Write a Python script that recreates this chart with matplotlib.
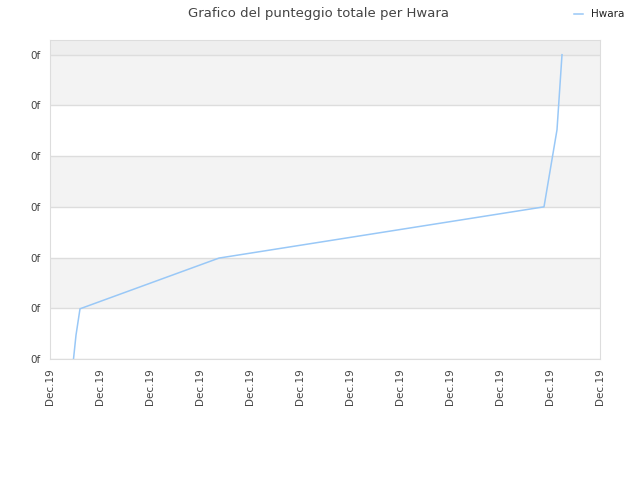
"""Grafico del punteggio totale per Hwara"""

import matplotlib
matplotlib.use("Agg")
import matplotlib.pyplot as plt

# posizioni sull'asse x (indice dei tick) e punteggi (in unità di tick)
x_pos = [0.47, 0.52, 0.60, 3.38, 9.88, 10.14, 10.24]
punteggi = [0.0, 0.47, 0.99, 1.99, 3.0, 4.52, 6.0]
x_labels = ["Dec.19"] * 12
y_labels = ["0f"] * 7

fig = plt.figure(figsize=(6.4, 4.8), dpi=100)
ax = fig.add_axes([50 / 640, 121 / 480, 550 / 640, 319 / 480])

# bande alternate
for i in range(1, 6, 2):
    ax.axhspan(i, i + 1, color="#f3f3f3", zorder=0, lw=0)
ax.axhspan(6, 6.29, color="#eeeeee", zorder=0, lw=0)

ax.plot(x_pos, punteggi, color="#99c8f7", linewidth=1.1, label="Hwara", zorder=3)

ax.set_xlim(0, 11)
ax.set_ylim(0, 6.29)
ax.set_xticks(range(len(x_labels)))
ax.set_xticklabels(x_labels, rotation=90, fontsize=7.5, color="#444444")
ax.set_yticks(range(len(y_labels)))
ax.set_yticklabels(y_labels, fontsize=7.5, color="#444444")
ax.tick_params(length=0, pad=7)
ax.grid(axis="y", color="#dddddd", linewidth=1)
ax.set_axisbelow(True)
for s in ax.spines.values():
    s.set_color("#dddddd")

fig.suptitle("Grafico del punteggio totale per Hwara", x=0.497, y=0.985,
             fontsize=9.5, color="#444444")
fig.legend(loc="upper right", bbox_to_anchor=(0.99, 1.0), frameon=False,
           fontsize=7.5, handlelength=0.8, handletextpad=0.8,
           labelcolor="#222222")

plt.savefig("out.png")
